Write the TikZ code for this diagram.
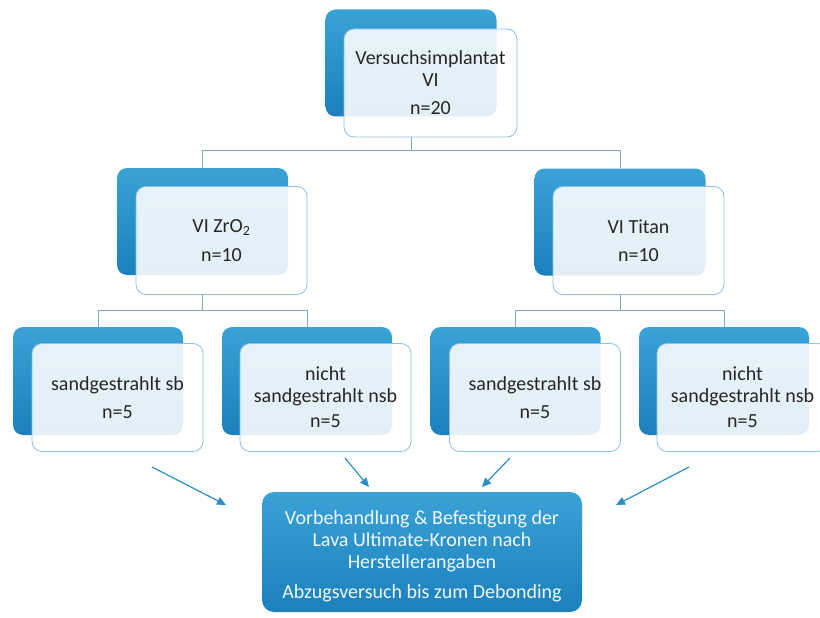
\documentclass[tikz,border=0pt]{standalone}
\usepackage{fontspec}
\setmainfont{Carlito}
\usetikzlibrary{arrows.meta}
\definecolor{blueA}{HTML}{3AA2D5}
\definecolor{blueB}{HTML}{1B80BC}
\definecolor{frontline}{HTML}{8DC1E2}
\definecolor{connc}{HTML}{7FA8C6}
\definecolor{arrc}{HTML}{2C8EC6}
\definecolor{textc}{HTML}{262626}
\definecolor{btext}{HTML}{EEF7FC}
\begin{document}
\begin{tikzpicture}[x=1pt,y=-1pt,
  back/.style={draw=none, rounded corners=10pt, top color=blueA, bottom color=blueB,
    minimum width=171pt, minimum height=107pt, inner sep=0pt},
  front/.style={draw=frontline, line width=0.8pt, rounded corners=10pt, fill=white,
    fill opacity=0.88, text opacity=1, text=textc, align=center,
    minimum width=171pt, minimum height=108pt, inner sep=0pt,
    font=\fontsize{20}{21.5}\selectfont},
  conn/.style={draw=connc, line width=0.8pt},
  arr/.style={draw=arrc, line width=1.2pt, -{Triangle[length=9pt,width=8pt]}},
  bottombox/.style={draw=none, rounded corners=12pt, top color=blueA, bottom color=blueB,
    minimum width=320pt, minimum height=120pt, inner sep=0pt, align=center,
    text=btext, font=\fontsize{20}{22}\selectfont}
]
\useasboundingbox (0,0) rectangle (820,618);

% level 1
\node[back] (tB) at (411,63) {};
\node[front, minimum width=173pt] (tF) at (430.5,83) {Versuchsimplantat\\VI\\[7pt]n=20};

% level 2
\node[back] (lB) at (202.5,221.5) {};
\node[front] (lF) at (221.5,240.5) {VI ZrO\textsubscript{2}\\[7pt]n=10};
\node[back] (rB) at (620,222) {};
\node[front] (rF) at (638.5,240.5) {VI Titan\\[7pt]n=10};

% level 3
\node[back, minimum width=170pt, minimum height=108pt] (aB) at (98,381) {};
\node[front] (aF) at (117.5,397.5) {sandgestrahlt sb\\[7pt]n=5};
\node[back, minimum width=170pt, minimum height=108pt] (bB) at (307,381) {};
\node[front] (bF) at (325.5,397.5) {nicht\\sandgestrahlt nsb\\[4pt]n=5};
\node[back, minimum width=170pt, minimum height=108pt] (cB) at (515.5,381) {};
\node[front] (cF) at (535,397.5) {sandgestrahlt sb\\[7pt]n=5};
\node[back, minimum width=170pt, minimum height=108pt] (dB) at (724,381) {};
\node[front] (dF) at (742.5,397.5) {nicht\\sandgestrahlt nsb\\[4pt]n=5};

% bottom box
\node[bottombox] (bot) at (422,552) {};
\node[text=btext, align=center, font=\fontsize{20}{22}\selectfont] (bottxt) at (422,556)
  {Vorbehandlung \& Befestigung der\\Lava Ultimate-Kronen nach\\Herstellerangaben\\[8pt]Abzugsversuch bis zum Debonding};

% tree connectors
\coordinate (j1) at (411,150);
\coordinate (j2) at (202.5,310.5);
\coordinate (j3) at (620,310.5);
\draw[conn] (tB.center |- tF.south) -- (j1);
\draw[conn] (j1) -| (lB.north);
\draw[conn] (j1) -| (rB.north);
\draw[conn] (lB.center |- lF.south) -- (j2);
\draw[conn] (j2) -| (aB.north);
\draw[conn] (j2) -| (bB.north);
\draw[conn] (rB.center |- rF.south) -- (j3);
\draw[conn] (j3) -| (cB.north);
\draw[conn] (j3) -| (dB.north);

% arrows
\coordinate (a1s) at (152,467);
\coordinate (a1e) at (226,505);
\coordinate (a2s) at (345,458);
\coordinate (a2e) at (369,487);
\coordinate (a3s) at (510,458);
\coordinate (a3e) at (482,487);
\coordinate (a4s) at (689,467);
\coordinate (a4e) at (616,505);
\draw[arr] (a1s) -- (a1e);
\draw[arr] (a2s) -- (a2e);
\draw[arr] (a3s) -- (a3e);
\draw[arr] (a4s) -- (a4e);
\end{tikzpicture}
\end{document}
